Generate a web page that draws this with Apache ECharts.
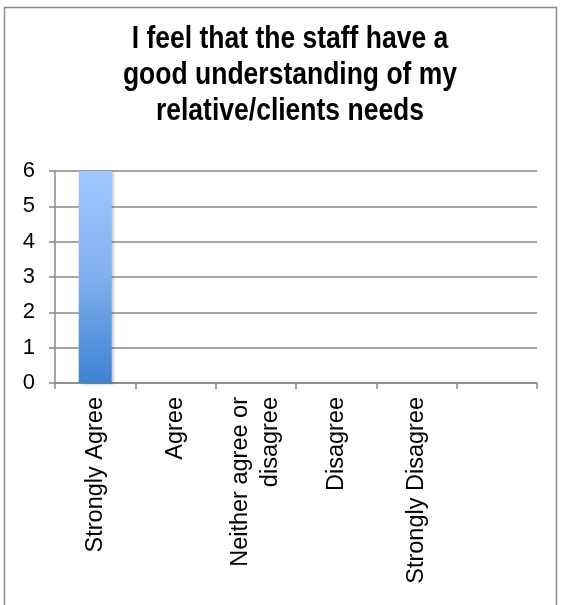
<!DOCTYPE html>
<html>
<head>
<meta charset="utf-8">
<script src="https://cdn.jsdelivr.net/npm/echarts@6/dist/echarts.min.js"></script>
<style>
  html, body { margin: 0; padding: 0; background: #fff; }
  #chart { width: 561px; height: 605px; }
</style>
</head>
<body>
<div id="chart"></div>
<script>
// Survey responses for one statement
const titleText = 'I feel that the staff have a\ngood understanding of my\nrelative/clients needs';
const categories = ['Strongly Agree', 'Agree', 'Neither agree or\ndisagree', 'Disagree', 'Strongly Disagree', ''];
const responses = [6, 0, 0, 0, 0, 0];
const yTicks = { min: 0, max: 6, interval: 1 };

const chart = echarts.init(document.getElementById('chart'), null, { renderer: 'canvas' });
const font = 'Liberation Sans, Arial, Helvetica, sans-serif';

chart.setOption({
  backgroundColor: '#fff',
  animation: false,
  graphic: [
    {
      // outer chart border
      type: 'rect',
      shape: { x: 4.5, y: 7.5, width: 552, height: 640 },
      style: { fill: 'none', stroke: '#8c8c8c', lineWidth: 1.5 },
      silent: true
    },
    {
      // heading, drawn a little taller than wide
      type: 'text',
      x: 290,
      y: 21,
      scaleY: 1.2,
      silent: true,
      style: {
        text: titleText,
        fontFamily: font,
        fontSize: 26.5,
        fontWeight: 'bold',
        fill: '#000',
        lineHeight: 30,
        align: 'center',
        verticalAlign: 'top'
      }
    }
  ],
  grid: { left: 55, right: 24, top: 171, bottom: 222, containLabel: false },
  xAxis: {
    type: 'category',
    data: categories,
    boundaryGap: true,
    axisLine: { lineStyle: { color: '#888', width: 1.5 } },
    axisTick: { show: true, length: 6, alignWithLabel: false, lineStyle: { color: '#888', width: 1.5 } },
    axisLabel: {
      rotate: 90,
      interval: 0,
      margin: 14,
      fontFamily: font,
      fontSize: 23.5,
      lineHeight: 30,
      color: '#000'
    },
    splitLine: { show: false }
  },
  yAxis: {
    type: 'value',
    min: yTicks.min,
    max: yTicks.max,
    interval: yTicks.interval,
    axisLine: { show: true, lineStyle: { color: '#888', width: 1.5 } },
    axisTick: { show: true, length: 6, lineStyle: { color: '#888', width: 1.5 } },
    axisLabel: {
      margin: 20,
      fontFamily: font,
      fontSize: 22,
      color: '#000'
    },
    splitLine: { show: true, lineStyle: { color: '#888', width: 1.5 } }
  },
  series: [{
    type: 'bar',
    data: responses,
    barWidth: '41%',
    itemStyle: {
      color: new echarts.graphic.LinearGradient(0, 0, 0, 1, [
        { offset: 0, color: '#a0c8ff' },
        { offset: 0.5, color: '#80b0ef' },
        { offset: 1, color: '#3d82d2' }
      ]),
      shadowColor: 'rgba(0,0,0,0.25)',
      shadowBlur: 3,
      shadowOffsetX: 2,
      shadowOffsetY: 1
    }
  }]
});
</script>
</body>
</html>
